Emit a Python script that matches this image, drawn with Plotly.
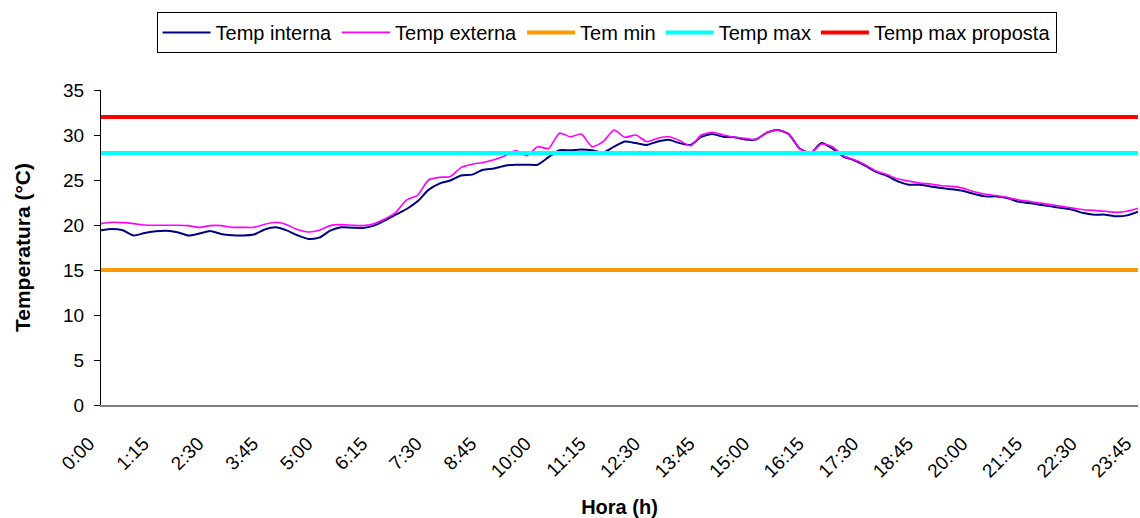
import plotly.graph_objects as go

# 15-minute steps over one day
hours = [f"{(i*15)//60}:{(i*15)%60:02d}" for i in range(96)]
tick_idx = list(range(0, 96, 5))
tick_labels = [hours[i] for i in tick_idx]

temp_interna = [
    19.41, 19.56, 19.41, 18.83, 19.12, 19.30, 19.37, 19.20, 18.83, 19.05,
    19.33, 19.00, 18.86, 18.83, 18.94, 19.50, 19.74, 19.40, 18.86, 18.45,
    18.60, 19.37, 19.74, 19.70, 19.67, 19.93, 20.50, 21.15, 21.78, 22.63,
    23.90, 24.60, 24.95, 25.50, 25.60, 26.13, 26.28, 26.58, 26.70, 26.70,
    26.70, 27.54, 28.30, 28.30, 28.40, 28.30, 28.05, 28.70, 29.27, 29.10,
    28.90, 29.27, 29.46, 29.10, 28.90, 29.80, 30.10, 29.80, 29.75, 29.50,
    29.50, 30.27, 30.56, 30.10, 28.50, 28.00, 29.10, 28.50, 27.60, 27.20,
    26.60, 25.90, 25.45, 24.84, 24.47, 24.47, 24.29, 24.10, 23.96, 23.77,
    23.44, 23.18, 23.18, 23.00, 22.60, 22.44, 22.26, 22.07, 21.89, 21.70,
    21.33, 21.15, 21.15, 20.97, 21.07, 21.48,
]

temp_externa = [
    20.15, 20.30, 20.26, 20.15, 20.00, 19.97, 19.97, 19.97, 19.93, 19.74,
    19.93, 19.93, 19.74, 19.74, 19.74, 20.08, 20.30, 20.04, 19.50, 19.22,
    19.41, 19.93, 20.04, 19.97, 19.93, 20.15, 20.66, 21.40, 22.80, 23.30,
    25.00, 25.30, 25.40, 26.40, 26.76, 26.95, 27.24, 27.70, 28.28, 27.70,
    28.70, 28.50, 30.20, 29.80, 30.10, 28.70, 29.27, 30.56, 29.75, 30.00,
    29.27, 29.64, 29.80, 29.40, 28.80, 30.00, 30.30, 30.00, 29.75, 29.64,
    29.50, 30.27, 30.56, 30.10, 28.50, 28.00, 29.00, 28.70, 27.70, 27.24,
    26.70, 26.00, 25.60, 25.10, 24.88, 24.65, 24.55, 24.36, 24.29, 24.07,
    23.70, 23.44, 23.26, 23.07, 22.81, 22.63, 22.44, 22.26, 22.07, 21.89,
    21.70, 21.63, 21.52, 21.40, 21.52, 21.85,
]

tem_min = [15.0] * 96
temp_max = [28.0] * 96
temp_max_proposta = [32.0] * 96

x = list(range(96))

fig = go.Figure()
fig.add_trace(go.Scatter(x=x, y=temp_interna, name="Temp interna", mode="lines",
                         line=dict(color="#000080", width=2, shape="spline", smoothing=0.6)))
fig.add_trace(go.Scatter(x=x, y=temp_externa, name="Temp externa", mode="lines",
                         line=dict(color="#FF00FF", width=1.6, shape="spline", smoothing=0.6)))
fig.add_trace(go.Scatter(x=x, y=tem_min, name="Tem min", mode="lines",
                         line=dict(color="#FF9900", width=4)))
fig.add_trace(go.Scatter(x=x, y=temp_max, name="Temp max", mode="lines",
                         line=dict(color="#00FFFF", width=4)))
fig.add_trace(go.Scatter(x=x, y=temp_max_proposta, name="Temp max proposta", mode="lines",
                         line=dict(color="#FF0000", width=4)))

font_family = "Liberation Sans, Arial, sans-serif"

fig.update_layout(
    width=1140, height=518,
    margin=dict(l=101, r=2, t=90, b=113),
    paper_bgcolor="white", plot_bgcolor="white",
    font=dict(family=font_family, size=19, color="black"),
    showlegend=True,
    legend=dict(
        orientation="h", x=0.4875, xanchor="center", y=1.248, yanchor="top",
        bordercolor="black", borderwidth=1, font=dict(size=20),
        itemwidth=48, tracegroupgap=0,
    ),
    xaxis=dict(
        range=[0, 95], tickmode="array", tickvals=tick_idx, ticktext=tick_labels,
        tickangle=-45, showgrid=False, zeroline=False, automargin=False,
        showline=True, linecolor="#808080", linewidth=2, ticks="",
        tickfont=dict(size=19), ticklabelstandoff=18, ticklabelshift=-12,
        title=dict(text="<b>Hora (h)</b>", font=dict(size=20), standoff=22),
    ),
    yaxis=dict(
        range=[0, 35], tickmode="array", tickvals=list(range(0, 36, 5)),
        showgrid=False, zeroline=False, showline=True, linecolor="black", linewidth=1,
        ticks="outside", ticklen=6, tickcolor="black", automargin=False,
        tickfont=dict(size=19), ticklabelstandoff=6,
        title=dict(text="<b>Temperatura (°C)</b>", font=dict(size=21), standoff=26),
    ),
    yaxis2=dict(
        range=[0, 35], overlaying="y", side="left", tickmode="array",
        tickvals=list(range(0, 36, 5)), ticks="inside", ticklen=7, tickcolor="black",
        showticklabels=False, showgrid=False, zeroline=False, showline=False,
    ),
)

fig.write_html("out.html")
